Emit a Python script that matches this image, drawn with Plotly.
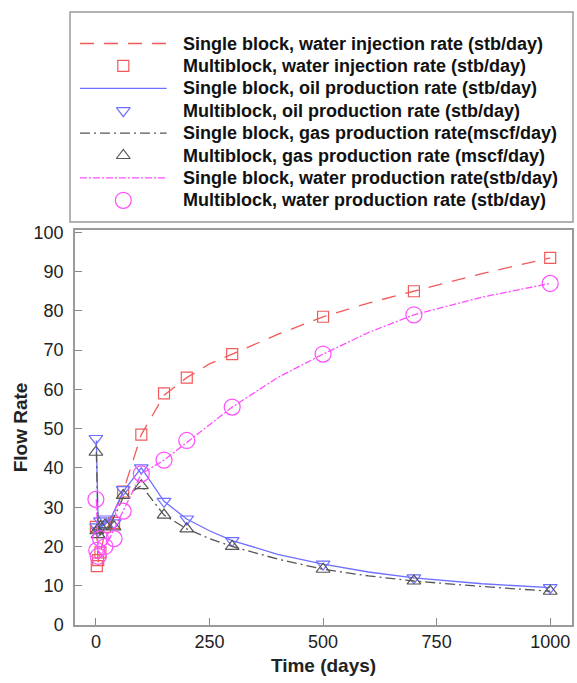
import plotly.graph_objects as go

# ---- data ----
t_single = [1, 5, 10, 20, 30, 60, 100, 150, 200, 250, 300, 400, 500, 600, 700, 850, 1000]
inj_single = [25, 16, 18, 24, 25.5, 34, 48.5, 58.5, 63, 66.5, 69, 74, 78.5, 82, 85, 89.5, 93.5]
oil_single = [47, 25, 24.5, 26, 26.5, 34, 40, 31.5, 27, 24, 21.5, 18, 15.5, 13.5, 12, 10.5, 9.5]
gas_single = [44, 24, 23, 25, 25, 32.5, 35.5, 28, 24.5, 22, 20, 16.8, 14.2, 12.5, 11.2, 9.8, 8.6]
wat_single = [32, 19, 17, 20, 22, 29, 38.5, 42, 46.5, 51, 55.5, 63, 69, 74.5, 79, 83.5, 87]

t_multi = [0, 2, 5, 10, 20, 40, 60, 100, 150, 200, 300, 500, 700, 1000]
inj_multi = [25, 15, 16.5, 18.5, 25, 26, 34, 48.5, 59, 63, 69, 78.5, 85, 93.5]
oil_multi = [47.5, 25, 24, 26.5, 27, 26, 34.5, 40, 31.5, 27, 21.5, 15.5, 12, 9.5]
gas_multi = [44, 24, 23, 25, 25.5, 25, 33, 35.5, 28, 24.5, 20, 14.2, 11.2, 8.6]
wat_multi = [32, 19, 17.5, 22, 20, 22, 29, 38.5, 42, 47, 55.5, 69, 79, 87]

x_ticks = [0, 250, 500, 750, 1000]
y_ticks = [0, 10, 20, 30, 40, 50, 60, 70, 80, 90, 100]

labels = [
    "Single block, water injection rate (stb/day)",
    "Multiblock, water injection rate (stb/day)",
    "Single block, oil production rate (stb/day)",
    "Multiblock, oil production rate (stb/day)",
    "Single block, gas production rate(mscf/day)",
    "Multiblock, gas production rate (mscf/day)",
    "Single block, water production rate(stb/day)",
    "Multiblock, water production rate (stb/day)",
]

RED = "#f25a5a"
BLUE = "#6f6fff"
GRAY = "#555555"
MAG = "#ff4dff"

series = [
    dict(kind="line", x=t_single, y=inj_single, color=RED, dash="14px,10px"),
    dict(kind="marker", x=t_multi, y=inj_multi, color=RED, symbol="square-open", size=11),
    dict(kind="line", x=t_single, y=oil_single, color=BLUE, dash="solid"),
    dict(kind="marker", x=t_multi, y=oil_multi, color=BLUE, symbol="triangle-down-open", size=12),
    dict(kind="line", x=t_single, y=gas_single, color=GRAY, dash="10px,4px,2px,4px"),
    dict(kind="marker", x=t_multi, y=gas_multi, color=GRAY, symbol="triangle-up-open", size=12),
    dict(kind="line", x=t_single, y=wat_single, color=MAG, dash="7px,2px,2px,2px"),
    dict(kind="marker", x=t_multi, y=wat_multi, color=MAG, symbol="circle-open", size=16),
]

fig = go.Figure()

for s, name in zip(series, labels):
    if s["kind"] == "line":
        fig.add_trace(go.Scatter(x=s["x"], y=s["y"], mode="lines", name=name,
                                 line=dict(color=s["color"], width=1.3, dash=s["dash"]),
                                 showlegend=False))
    else:
        fig.add_trace(go.Scatter(x=s["x"], y=s["y"], mode="markers", name=name,
                                 marker=dict(color=s["color"], symbol=s["symbol"], size=s["size"],
                                             line=dict(width=1.2, color=s["color"])),
                                 showlegend=False))

# ---- hand-built legend in a pixel-like overlay axis ----
W, H = 577, 683
ml, mr, mt, mb = 75, 3, 10, 58
plot_w = W - ml - mr
plot_h = H - mt - mb
plot_top_px = 230
main_top = (H - mb - plot_top_px) / plot_h
leg_dom0 = 0.65
leg_bottom_px = H - mb - leg_dom0 * plot_h

row0, gap = 43.5, 22.4
line_x0, line_x1, sym_x, text_x = 80, 167, 123.5, 181

for i, (s, name) in enumerate(zip(series, labels)):
    yy = row0 + i * gap
    if s["kind"] == "line":
        fig.add_trace(go.Scatter(x=[line_x0, line_x1], y=[yy, yy], mode="lines",
                                 line=dict(color=s["color"], width=1.3, dash=s["dash"]),
                                 xaxis="x2", yaxis="y2", showlegend=False, hoverinfo="skip"))
    else:
        fig.add_trace(go.Scatter(x=[sym_x], y=[yy], mode="markers",
                                 marker=dict(color=s["color"], symbol=s["symbol"], size=s["size"],
                                             line=dict(width=1.2, color=s["color"])),
                                 xaxis="x2", yaxis="y2", showlegend=False, hoverinfo="skip"))
    fig.add_annotation(x=text_x, y=yy, xref="x2", yref="y2", text="<b>%s</b>" % name,
                       showarrow=False, xanchor="left", yanchor="middle",
                       font=dict(family="Liberation Sans, Arial", size=18, color="#111"))

# legend frame
fig.add_shape(type="rect", xref="paper", yref="y2",
              x0=(70 - ml) / plot_w, x1=(575 - ml) / plot_w, y0=12, y1=222,
              line=dict(color="#9a9a9a", width=1.5), fillcolor="rgba(0,0,0,0)")

axis_font = dict(family="Liberation Sans, Arial", size=18, color="#222")
title_font = dict(family="Liberation Sans, Arial", size=19, color="#222")
fig.update_layout(
    width=W, height=H,
    margin=dict(l=ml, r=mr, t=mt, b=mb),
    paper_bgcolor="white", plot_bgcolor="white",
    showlegend=False,
    xaxis=dict(range=[-46, 1048], tickvals=x_ticks,
               ticks="inside", ticklen=7, tickcolor="#888", tickwidth=1,
               showline=True, linecolor="#9a9a9a", linewidth=1.5, mirror=True,
               showgrid=False, zeroline=False, tickfont=axis_font,
               title=dict(text="<b>Time (days)</b>", font=title_font, standoff=7),
               domain=[0, 1], anchor="y"),
    yaxis=dict(range=[0, 100.6], tickvals=y_ticks,
               ticks="inside", ticklen=7, tickcolor="#888", tickwidth=1,
               showline=True, linecolor="#9a9a9a", linewidth=1.5, mirror=True,
               showgrid=False, zeroline=False, tickfont=axis_font, ticklabelstandoff=6,
               title=dict(text="<b>Flow Rate</b>", font=title_font, standoff=1),
               domain=[0, main_top], anchor="x"),
    xaxis2=dict(range=[ml, W - mr], domain=[0, 1], anchor="y2", visible=False, fixedrange=True),
    yaxis2=dict(range=[leg_bottom_px, mt], domain=[leg_dom0, 1], anchor="x2", visible=False, fixedrange=True),
)

fig.write_html("out.html")
